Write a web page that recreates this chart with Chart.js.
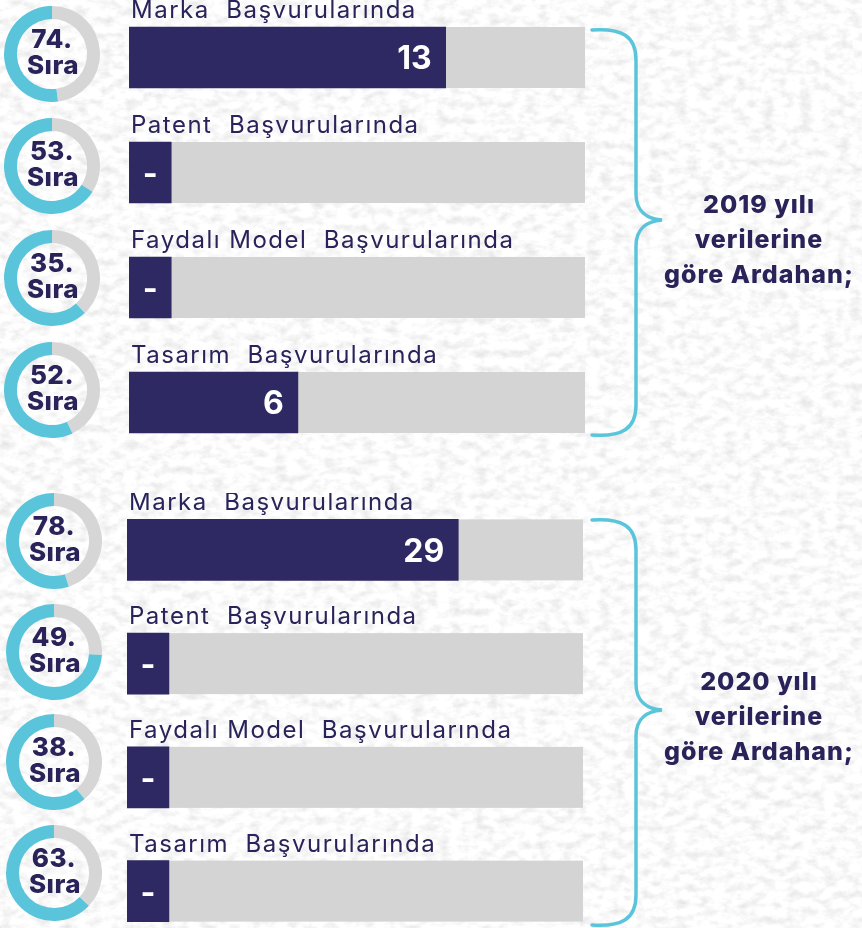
<!DOCTYPE html>
<html lang="tr">
<head>
<meta charset="utf-8">
<title>Ardahan Sınai Mülkiyet Başvuruları</title>
<script src="https://cdn.jsdelivr.net/npm/chart.js@4.4.0/dist/chart.umd.min.js"></script>
<style>
  html, body { margin: 0; padding: 0; }
  #wrap { position: relative; width: 862px; height: 928px; overflow: hidden; background: #e3e3e3; }
  #paper { position: absolute; left: 0; top: 0; }
  .grp { position: absolute; left: 0; }
  .ring { position: absolute; width: 96px; height: 96px; }
</style>
</head>
<body>
<div id="wrap">
  <svg id="paper" width="862" height="928">
    <filter id="grain" x="0" y="0" width="100%" height="100%">
      <feTurbulence type="fractalNoise" baseFrequency="0.08 0.12" numOctaves="4" seed="11"/>
      <feColorMatrix type="matrix" values="0 0 0 0 1  0 0 0 0 1  0 0 0 0 1  1.8 0 0 0 -0.05"/>
    </filter>
    <rect width="862" height="928" filter="url(#grain)"/>
  </svg>
  <div class="grp" style="top:0"><canvas id="bars2019" width="862" height="460"></canvas></div>
  <div class="grp" style="top:493px"><canvas id="bars2020" width="862" height="455"></canvas></div>
</div>

<script>
// başvuru türleri
const categories = [
  "Marka  Başvurularında",
  "Patent  Başvurularında",
  "Faydalı Model  Başvurularında",
  "Tasarım  Başvurularında"
];

// başvuru sayıları (0 => "-")
const values2019 = [13, 0, 0, 6];
const values2020 = [29, 0, 0, 0];

// il sıralaması
const ranks2019 = [74, 53, 35, 52];
const ranks2020 = [78, 49, 38, 63];

// halkadaki mavi pay (%)
const ringShare2019 = [52, 66, 62, 57];
const ringShare2020 = [55, 74, 61, 63];

const title2019 = ["2019 yılı", "verilerine", "göre Ardahan;"];
const title2020 = ["2020 yılı", "verilerine", "göre Ardahan;"];

const NAVY = "#2e2962";
const INK = "#29235a";
const TRACK = "#d4d4d4";
const CYAN = "#5ac5da";
const FONT = "Inter, 'Open Sans', sans-serif";

// gri zemin, etiketler, süslü parantez ve yan yazı
const decor = {
  id: "decor",
  beforeDatasetsDraw(chart) {
    const { ctx, chartArea } = chart;
    ctx.save();
    ctx.fillStyle = TRACK;
    chart.getDatasetMeta(0).data.forEach(bar => {
      ctx.fillRect(chartArea.left, bar.y - bar.height / 2, chartArea.width, bar.height);
    });
    ctx.restore();
  },
  afterDatasetsDraw(chart, args, opts) {
    const { ctx, chartArea } = chart;
    const vals = chart.data.datasets[0].data;
    ctx.save();
    chart.getDatasetMeta(0).data.forEach((bar, i) => {
      const top = bar.y - bar.height / 2;
      ctx.fillStyle = INK;
      ctx.font = "400 24px " + FONT;
      ctx.letterSpacing = "1.5px";
      ctx.textAlign = "left";
      ctx.textBaseline = "alphabetic";
      ctx.fillText(chart.data.labels[i], chartArea.left + 2, top - 9);

      ctx.fillStyle = "#ffffff";
      ctx.font = "700 32px " + FONT;
      ctx.letterSpacing = "0px";
      ctx.textBaseline = "middle";
      if (vals[i] === 0) {
        ctx.textAlign = "center";
        ctx.fillText("-", (chartArea.left + bar.x) / 2, bar.y + 3);
      } else {
        ctx.textAlign = "right";
        ctx.fillText(String(vals[i]), bar.x - 14, bar.y + 2);
      }
    });

    // süslü parantez
    const b = opts.brace;
    ctx.strokeStyle = CYAN;
    ctx.lineWidth = 3.5;
    ctx.lineCap = "round";
    ctx.beginPath();
    ctx.moveTo(592, b.top);
    ctx.bezierCurveTo(622, b.top - 2, 636, b.top + 6, 636, b.top + 30);
    ctx.lineTo(636, b.mid - 26);
    ctx.bezierCurveTo(636, b.mid - 8, 648, b.mid - 1, 662, b.mid);
    ctx.bezierCurveTo(648, b.mid + 1, 636, b.mid + 8, 636, b.mid + 26);
    ctx.lineTo(636, b.bottom - 30);
    ctx.bezierCurveTo(636, b.bottom - 6, 622, b.bottom + 2, 592, b.bottom);
    ctx.stroke();

    ctx.fillStyle = INK;
    ctx.font = "800 25px " + FONT;
    ctx.letterSpacing = "1px";
    ctx.textAlign = "center";
    ctx.textBaseline = "middle";
    opts.title.forEach((line, i) => {
      ctx.fillText(line, 759, opts.titleY + i * 35);
    });
    ctx.restore();
  }
};

function barChart(id, values, xMin, xMax, padLeft, brace, title, titleY) {
  return new Chart(document.getElementById(id), {
    type: "bar",
    data: {
      labels: categories,
      datasets: [{
        data: values,
        base: xMin,
        backgroundColor: NAVY,
        barThickness: 61,
        borderWidth: 0
      }]
    },
    options: {
      indexAxis: "y",
      responsive: false,
      animation: false,
      events: [],
      layout: { padding: { left: padLeft, right: 862 - padLeft - 456, top: 0, bottom: 0 } },
      scales: {
        x: { type: "linear", min: xMin, max: xMax, display: false },
        y: { display: false }
      },
      plugins: {
        legend: { display: false },
        tooltip: { enabled: false },
        decor: { brace: brace, title: title, titleY: titleY }
      }
    },
    plugins: [decor]
  });
}

barChart("bars2019", values2019, -2, 19.6, 129, { top: 30, mid: 220, bottom: 435 }, title2019, 205);
barChart("bars2020", values2020, -4.2, 41.5, 127, { top: 27, mid: 217, bottom: 432 }, title2020, 189);

// sıra halkaları
const ringText = {
  id: "ringText",
  afterDraw(chart, args, opts) {
    const { ctx, chartArea } = chart;
    const cx = (chartArea.left + chartArea.right) / 2;
    const cy = (chartArea.top + chartArea.bottom) / 2;
    ctx.save();
    ctx.fillStyle = INK;
    ctx.font = "800 26px " + FONT;
    ctx.letterSpacing = "0.5px";
    ctx.textAlign = "center";
    ctx.textBaseline = "middle";
    ctx.fillText(opts.rank + ".", cx, cy - 14);
    ctx.fillText("Sıra", cx + 1, cy + 12);
    ctx.restore();
  }
};

function rings(ranks, shares, cx, firstY, step) {
  const wrap = document.getElementById("wrap");
  ranks.forEach((rank, i) => {
    const box = document.createElement("div");
    box.className = "ring";
    box.style.left = (cx - 48) + "px";
    box.style.top = (firstY + i * step - 48) + "px";
    const cv = document.createElement("canvas");
    cv.width = 96;
    cv.height = 96;
    box.appendChild(cv);
    wrap.appendChild(box);
    new Chart(cv, {
      type: "doughnut",
      data: {
        labels: ["", ""],
        datasets: [{
          data: [100 - shares[i], shares[i]],
          backgroundColor: ["#d6d6d6", CYAN],
          borderWidth: 0
        }]
      },
      options: {
        responsive: false,
        animation: false,
        events: [],
        cutout: "73%",
        plugins: {
          legend: { display: false },
          tooltip: { enabled: false },
          ringText: { rank: rank }
        }
      },
      plugins: [ringText]
    });
  });
}

rings(ranks2019, ringShare2019, 52, 54, 112);
rings(ranks2020, ringShare2020, 54, 541, 110.5);
</script>
</body>
</html>
